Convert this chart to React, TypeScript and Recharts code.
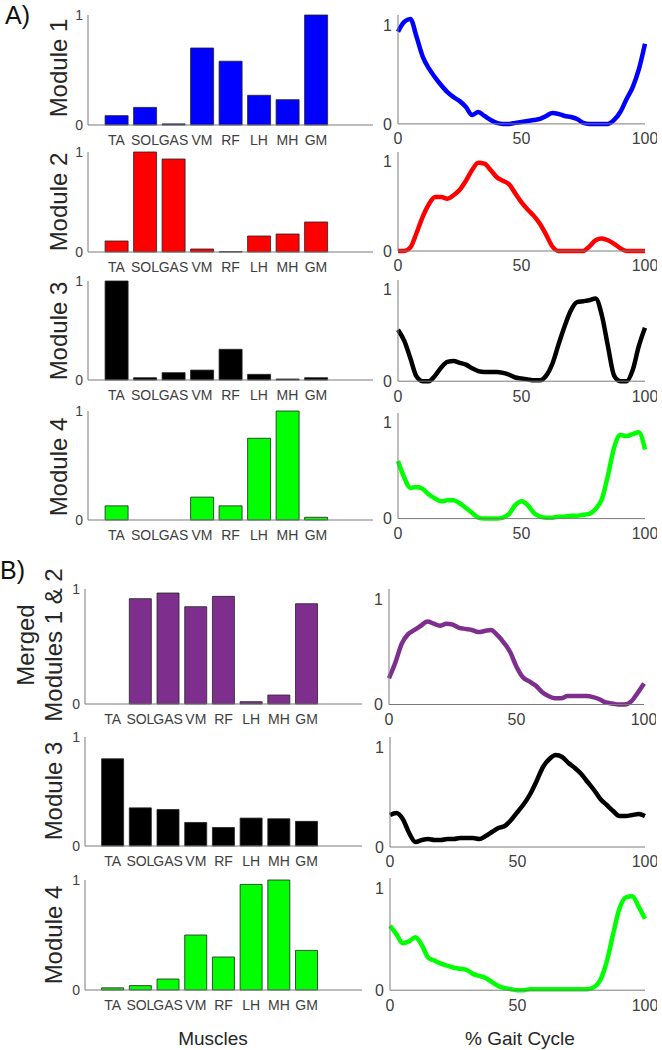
import { BarChart, Bar, LineChart, Line, XAxis, YAxis } from 'recharts'

// muscles on the x axis of every weight plot
const MUSCLES = ['TA', 'SOL', 'GAS', 'VM', 'RF', 'LH', 'MH', 'GM']

// % gait cycle sample points
const GAIT = [
  0, 2.5, 5, 7.5, 10, 12.5, 15, 17.5, 20, 22.5, 25, 27.5, 30, 32.5, 35, 37.5, 40, 42.5, 45, 47.5, 50,
  52.5, 55, 57.5, 60, 62.5, 65, 67.5, 70, 72.5, 75, 77.5, 80, 82.5, 85, 87.5, 90, 92.5, 95, 97.5, 100,
]

// A) module weights
const W_A1 = [0.085, 0.16, 0.01, 0.7, 0.58, 0.27, 0.23, 1.0]
const W_A2 = [0.11, 1.0, 0.93, 0.03, 0.003, 0.16, 0.18, 0.3]
const W_A3 = [1.0, 0.023, 0.074, 0.1, 0.31, 0.057, 0.01, 0.023]
const W_A4 = [0.13, 0, 0, 0.21, 0.13, 0.75, 1.0, 0.025]
// B) module weights
const W_B1 = [0, 0.916, 0.965, 0.846, 0.936, 0.02, 0.078, 0.872]
const W_B2 = [0.8, 0.35, 0.335, 0.216, 0.17, 0.256, 0.25, 0.226]
const W_B3 = [0.02, 0.04, 0.1, 0.5, 0.3, 0.96, 1.0, 0.36]

// A) activation curves
const C_A1 = [
  0.93, 1.03, 1.06, 0.88, 0.68, 0.56, 0.47, 0.39, 0.32, 0.27, 0.23, 0.17, 0.09, 0.12, 0.08, 0.04, 0.01, 0, 0, 0.01,
  0.02, 0.03, 0.04, 0.05, 0.08, 0.11, 0.1, 0.08, 0.07, 0.05, 0.01, 0, 0, 0, 0, 0.04, 0.12, 0.25, 0.37, 0.55, 0.81,
]
const C_A2 = [
  0, 0, 0.04, 0.2, 0.38, 0.52, 0.6, 0.6, 0.58, 0.62, 0.68, 0.78, 0.9, 0.98, 0.97, 0.9, 0.82, 0.78, 0.74, 0.64,
  0.54, 0.46, 0.39, 0.3, 0.18, 0.05, 0, 0, 0, 0, 0, 0.05, 0.12, 0.14, 0.12, 0.08, 0.03, 0, 0, 0, 0,
]
const C_A3 = [
  0.56, 0.44, 0.25, 0.05, 0, 0, 0.06, 0.15, 0.21, 0.22, 0.2, 0.18, 0.14, 0.11, 0.1, 0.1, 0.1, 0.09, 0.07, 0.04,
  0.03, 0.02, 0.01, 0.01, 0.06, 0.19, 0.4, 0.6, 0.77, 0.86, 0.87, 0.88, 0.9, 0.72, 0.38, 0.06, 0, 0, 0.12, 0.38, 0.58,
]
const C_A4 = [
  0.6, 0.43, 0.32, 0.33, 0.31, 0.25, 0.21, 0.18, 0.19, 0.19, 0.16, 0.11, 0.06, 0.01, 0, 0, 0, 0.01, 0.05, 0.14,
  0.18, 0.14, 0.06, 0.02, 0.01, 0.01, 0.02, 0.02, 0.03, 0.03, 0.04, 0.05, 0.1, 0.2, 0.45, 0.74, 0.87, 0.86, 0.88, 0.9, 0.72,
]
// B) activation curves
const C_B1 = [
  0.25, 0.4, 0.58, 0.67, 0.71, 0.75, 0.79, 0.77, 0.75, 0.77, 0.76, 0.73, 0.72, 0.71, 0.69, 0.7, 0.71, 0.66, 0.59, 0.5,
  0.36, 0.26, 0.22, 0.18, 0.12, 0.08, 0.06, 0.06, 0.08, 0.08, 0.08, 0.08, 0.07, 0.05, 0.02, 0.01, 0, 0, 0.03, 0.11, 0.2,
]
const C_B2 = [
  0.32, 0.34, 0.28, 0.14, 0.05, 0.07, 0.08, 0.07, 0.07, 0.08, 0.08, 0.09, 0.09, 0.09, 0.08, 0.11, 0.15, 0.19, 0.21, 0.27,
  0.35, 0.43, 0.53, 0.66, 0.8, 0.88, 0.92, 0.9, 0.84, 0.79, 0.73, 0.65, 0.57, 0.48, 0.42, 0.36, 0.31, 0.31, 0.32, 0.33, 0.31,
]
const C_B3 = [
  0.63, 0.55, 0.46, 0.48, 0.52, 0.44, 0.32, 0.29, 0.26, 0.24, 0.22, 0.21, 0.2, 0.16, 0.14, 0.12, 0.08, 0.04, 0.02, 0.01,
  0, 0, 0.01, 0.01, 0.01, 0.01, 0.01, 0.01, 0.01, 0.01, 0.01, 0.01, 0.03, 0.1, 0.28, 0.55, 0.8, 0.91, 0.92, 0.82, 0.7,
]

const BLUE = '#0000ff'
const RED = '#ff0000'
const BLACK = '#000000'
const GREEN = '#00ff00'
const PURPLE = '#7e2f8e'

const FONT = '"Liberation Sans", Arial, sans-serif'
const AXIS = '#7a7a7a'
const TICK = '#404040'
const YW = 40

// one row = weights on the left, activation on the right
const ROWS = [
  { label: ['Module 1'], lx: 59, ly: 68, w: W_A1, c: C_A1, color: BLUE, bar: [88, 373, 15, 125], line: [398, 645, 25, 124] },
  { label: ['Module 2'], lx: 59, ly: 202, w: W_A2, c: C_A2, color: RED, bar: [88, 373, 152, 252], line: [398, 645, 161, 251] },
  { label: ['Module 3'], lx: 59, ly: 331, w: W_A3, c: C_A3, color: BLACK, bar: [88, 373, 281, 380], line: [398, 645, 289, 381] },
  { label: ['Module 4'], lx: 59, ly: 467, w: W_A4, c: C_A4, color: GREEN, bar: [88, 373, 411, 520], line: [398, 645, 423, 519] },
  { label: ['Merged', 'Modules 1 & 2'], lx: 40, ly: 645, w: W_B1, c: C_B1, color: PURPLE, bar: [85, 362, 589, 704], line: [389, 644, 599, 704] },
  { label: ['Module 3'], lx: 54, ly: 791, w: W_B2, c: C_B2, color: BLACK, bar: [85, 362, 737, 846], line: [390, 645, 747, 847] },
  { label: ['Module 4'], lx: 54, ly: 935, w: W_B3, c: C_B3, color: GREEN, bar: [85, 362, 880, 990], line: [390, 645, 888, 990] },
]

function WeightBars({ values, color, box }: { values: number[]; color: string; box: number[] }) {
  const [left, right, y1, y0] = box
  const pw = right - left
  const s = pw / 10
  const data = MUSCLES.map((m, i) => ({ m, v: values[i] }))
  return (
    <div style={{ position: 'absolute', left: left - YW, top: y1 - 10 }}>
      <BarChart width={YW + pw + 10} height={10 + (y0 - y1) + 30} data={data}
        margin={{ top: 10, right: 10, left: 0, bottom: 0 }} barCategoryGap="10%">
        <XAxis dataKey="m" padding={{ left: s / 2, right: s * 1.5 }} height={30} interval={0}
          tickLine={false} tickSize={0} tickMargin={10} stroke={AXIS}
          tick={{ fill: TICK, fontSize: 14, fontFamily: FONT }} />
        <YAxis domain={[0, 1]} ticks={[0, 1]} width={YW} tickLine={false} tickSize={0} tickMargin={5}
          stroke={AXIS} tick={{ fill: TICK, fontSize: 14, fontFamily: FONT }} />
        <Bar dataKey="v" fill={color} stroke="#222" strokeWidth={0.8} isAnimationActive={false} />
      </BarChart>
    </div>
  )
}

function Activation({ values, color, box }: { values: number[]; color: string; box: number[] }) {
  const [left, right, y1, y0] = box
  const pw = right - left
  const ph = 1.1 * (y0 - y1)
  const data = GAIT.map((x, i) => ({ x, v: values[i] }))
  return (
    <div style={{ position: 'absolute', left: left - YW, top: y0 - ph - 10 }}>
      <LineChart width={YW + pw + 12} height={10 + ph + 30} data={data}
        margin={{ top: 10, right: 12, left: 0, bottom: 0 }}>
        <XAxis dataKey="x" type="number" domain={[0, 100]} ticks={[0, 50, 100]} height={30}
          tickLine={false} tickSize={0} tickMargin={9} stroke={AXIS}
          tick={{ fill: TICK, fontSize: 16, fontFamily: FONT }} />
        <YAxis domain={[0, 1.1]} ticks={[0, 1]} width={YW} tickLine={false} tickSize={0} tickMargin={6}
          stroke={AXIS} tick={{ fill: TICK, fontSize: 16, fontFamily: FONT }} />
        <Line dataKey="v" type="monotone" stroke={color} strokeWidth={4.5} dot={false}
          strokeLinejoin="round" isAnimationActive={false} />
      </LineChart>
    </div>
  )
}

function RowLabel({ lines, x, y }: { lines: string[]; x: number; y: number }) {
  return (
    <div style={{
      position: 'absolute', left: x, top: y, transform: 'translate(-50%, -50%) rotate(-90deg)',
      whiteSpace: 'nowrap', textAlign: 'center', fontSize: 24, lineHeight: '28px', color: '#262626', fontFamily: FONT,
    }}>
      {lines.map((t) => <div key={t}>{t}</div>)}
    </div>
  )
}

export default function App() {
  return (
    <div style={{ position: 'absolute', left: 0, top: 0, width: 662, height: 1050, background: '#fff', fontFamily: FONT }}>
      <div style={{ position: 'absolute', left: 5, top: 1, fontSize: 25, color: '#111' }}>A)</div>
      <div style={{ position: 'absolute', left: 0, top: 556, fontSize: 25, color: '#111' }}>B)</div>
      {ROWS.map((r, i) => (
        <div key={i}>
          <RowLabel lines={r.label} x={r.lx} y={r.ly} />
          <WeightBars values={r.w} color={r.color} box={r.bar} />
          <Activation values={r.c} color={r.color} box={r.line} />
        </div>
      ))}
      <div style={{ position: 'absolute', left: 213, top: 1028, transform: 'translateX(-50%)', fontSize: 19, color: '#262626' }}>
        Muscles
      </div>
      <div style={{ position: 'absolute', left: 520, top: 1028, transform: 'translateX(-50%)', fontSize: 19, color: '#262626' }}>
        % Gait Cycle
      </div>
    </div>
  )
}
